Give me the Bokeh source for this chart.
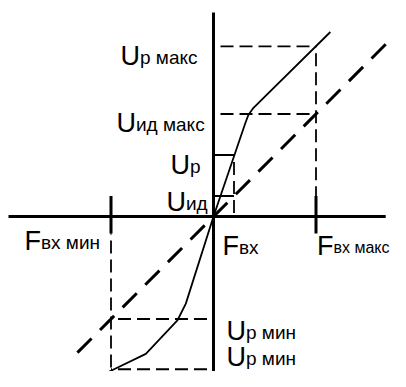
from bokeh.plotting import figure
from bokeh.models import Range1d
from bokeh.core.properties import value
from bokeh.embed import file_html
from bokeh.resources import INLINE

# ---- values (normalised so that F_вх макс = 1) ----
F_max = 1.0
F_min = -1.0
F_in = 0.2
U_r_max = 1.66
U_id_max = 1.0
U_r = 0.6
U_id = 0.2
U_r_min1 = -1.0
U_r_min2 = -1.49

# real characteristic
curve_x = [-1.33, -0.97, -0.66, -0.35, -0.27, 0.0, 0.31, 0.34, 0.39, 1.14]
curve_y = [-1.67, -1.49, -1.34, -1.01, -0.85, 0.0, 0.91, 0.99, 1.06, 1.80]
# ideal characteristic
ideal_x = [1.68, -1.33]
ideal_y = [1.68, -1.33]

# axes extents and tick size
h_axis_x = [-2.0, 1.68]
v_axis_y = [1.99, -1.75]
tick_y = [0.2, -0.165]

# labels
label_main = ["U", "U", "U", "U", "F", "F", "F", "U", "U"]
label_sub = ["р макс", "ид макс", "р", "ид", "вх мин", "вх", "вх макс", "р мин", "р мин"]
label_ax = [0, 0, 0, 0, F_min, F_in, F_max, 0, 0]
label_ay = [U_r_max, U_id_max, U_r, U_id, 0, 0, 0, U_r_min1, U_r_min2]

W, H = 390, 371
SCALE = 102.5  # px per unit
x0, y0 = 213, 216  # origin in canvas px

p = figure(width=W, height=H, output_backend="svg", toolbar_location=None,
           x_range=Range1d(-x0 / SCALE, (W - x0) / SCALE),
           y_range=Range1d((y0 - H) / SCALE, y0 / SCALE),
           x_axis_type=None, y_axis_type=None, min_border=0,
           background_fill_color="white", border_fill_color="white")
p.outline_line_color = None
p.grid.visible = False

# axes
p.line(h_axis_x, [0, 0], line_color="black", line_width=3)
p.line([0, 0], v_axis_y, line_color="black", line_width=3)
# ticks at F_min / F_max
p.segment(x0=[F_min, F_max], y0=[tick_y[0]] * 2, x1=[F_min, F_max], y1=[tick_y[1]] * 2,
          line_color="black", line_width=3)

# thin dashed guides
gx0 = [0, 0, F_max, F_min, F_min, F_min, F_in]
gy0 = [U_r_max, U_id_max, U_r_max, tick_y[1], U_r_min1, U_r_min2, U_r]
gx1 = [F_max, F_max, F_max, F_min, 0, 0, F_in]
gy1 = [U_r_max, U_id_max, tick_y[0], U_r_min2, U_r_min1, U_r_min2, 0]
p.segment(x0=gx0, y0=gy0, x1=gx1, y1=gy1, line_color="black", line_width=1.8,
          line_dash="13 6", line_dash_offset=12)

# solid short guides at U_р and U_ид
p.segment(x0=[0, 0], y0=[U_r, U_id], x1=[F_in + 0.01, F_in], y1=[U_r, U_id],
          line_color="black", line_width=1.8)

# ideal characteristic (thick dashed)
p.line(ideal_x, ideal_y, line_color="black", line_width=3, line_dash="20 12")
# real characteristic
p.line(curve_x, curve_y, line_color="black", line_width=1.8)

# label offsets in px (right, down) relative to anchors
main_dx = [-93, -97, -43, -47, -86.5, -11.5, 1, 13, 13]
main_dy = [10, 8.5, 9.5, 5.5, 24, 29, 29, 11.5, -12]
adv = [19.5 if m == "U" else 16.5 for m in label_main]
sub_size = ["19px"] * 6 + ["16px"] + ["19px"] * 2

mx = [ax + dx / SCALE for ax, dx in zip(label_ax, main_dx)]
my = [ay - dy / SCALE for ay, dy in zip(label_ay, main_dy)]
sx = [ax + (dx + a) / SCALE for ax, dx, a in zip(label_ax, main_dx, adv)]
sy = [ay - (dy + 1.5) / SCALE for ay, dy in zip(label_ay, main_dy)]

p.text(mx, my, text=label_main, text_font=value("Liberation Sans"),
       text_font_size="27px", text_color="black",
       text_baseline="alphabetic", text_align="left")
p.text(x=sx, y=sy, text=label_sub, text_font=value("Liberation Sans"),
       text_font_size=sub_size, text_color="black",
       text_baseline="alphabetic", text_align="left")

open("out.html", "w").write(file_html(p, INLINE))
